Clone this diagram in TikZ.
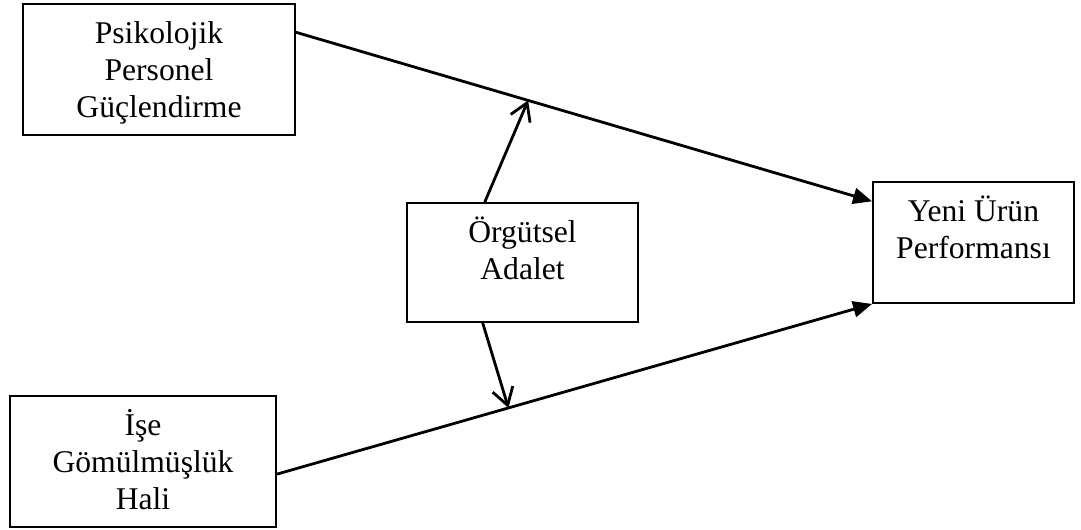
\documentclass[tikz,border=0pt]{standalone}
\usepackage{fontspec}
\setmainfont{Liberation Serif}
\usetikzlibrary{arrows.meta,calc,positioning}

\begin{document}
\begin{tikzpicture}[x=0.02cm,y=-0.02cm,
  box/.style={draw,line width=1.1pt,inner sep=0pt},
  lbl/.style={align=center,inner sep=0pt,font=\fontsize{18}{21}\selectfont},
  link/.style={line width=1.6pt,-{Triangle[length=0.38cm,width=0.32cm]}},
  modlink/.style={line width=1.6pt,-{Straight Barb[length=0.34cm,width=0.42cm]}}
]
\useasboundingbox (0,0) rectangle (1081,530);

% the boxes
\node[box,minimum width=5.44cm,minimum height=2.62cm] (ppg) at (159,69.5) {};
\node[box,minimum width=4.62cm,minimum height=2.38cm] (oa) at (522.5,262.5) {};
\node[box,minimum width=4.02cm,minimum height=2.42cm] (yup) at (973.5,242.5) {};
\node[box,minimum width=5.32cm,minimum height=2.62cm] (igh) at (143,461.5) {};

% the texts
\node[lbl,below=6.5pt of ppg.north] (ppgT) {\rule{0pt}{16.5pt}Psikolojik\\Personel\\Güçlendirme};
\node[lbl,below=6.5pt of oa.north] (oaT) {\rule{0pt}{16.5pt}Örgütsel\\Adalet};
\node[lbl,below=6.5pt of yup.north] (yupT) {\rule{0pt}{16.5pt}Yeni Ürün\\Performansı};
\node[lbl,below=6.5pt of igh.north] (ighT) {\rule{0pt}{16.5pt}İşe\\Gömülmüşlük\\Hali};

% the ends of the paths
\coordinate (p1) at ($(ppg.north east)!0.22!(ppg.south east)$);
\coordinate (q1) at ($(yup.north west)!0.165!(yup.south west)$);
\coordinate (p2) at ($(igh.north east)!0.595!(igh.south east)$);
\coordinate (q2) at (yup.south west);
\coordinate (m1) at ($(p1)!0.403!(q1)$);
\coordinate (m2) at ($(p2)!0.389!(q2)$);
\coordinate (a1) at ($(oa.north west)!0.338!(oa.north east)$);
\coordinate (a2) at ($(oa.south west)!0.329!(oa.south east)$);

% the paths
\draw[link] (p1) -- (q1);
\draw[link] (p2) -- (q2);
\draw[modlink] (a1) -- (m1);
\draw[modlink] (a2) -- (m2);
\end{tikzpicture}
\end{document}
